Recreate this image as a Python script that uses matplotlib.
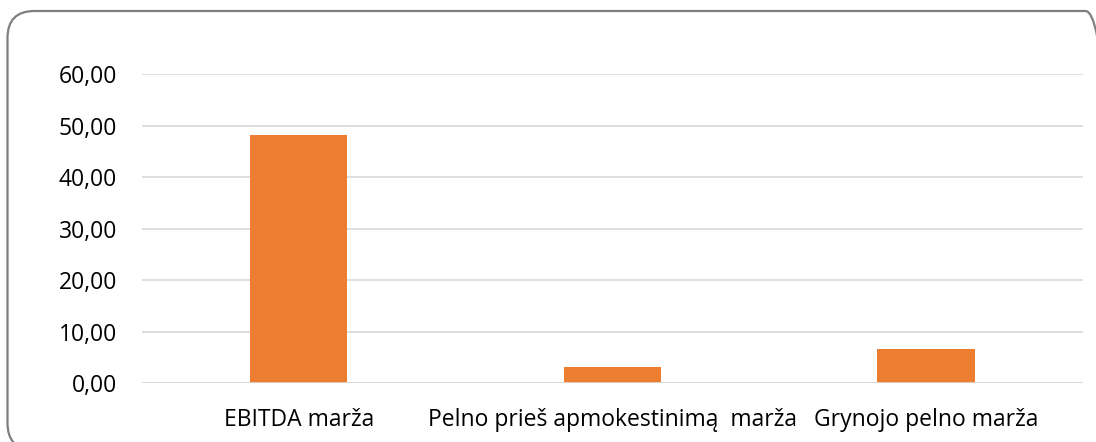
import matplotlib.pyplot as plt
from matplotlib.patches import FancyBboxPatch

categories = ['EBITDA marža', 'Pelno prieš apmokestinimą  marža', 'Grynojo pelno marža']
values = [48.2, 3.1, 6.7]
yticks = [0, 10, 20, 30, 40, 50, 60]

plt.rcParams['font.family'] = ['Open Sans', 'DejaVu Sans']

fig = plt.figure(figsize=(10.96, 4.42), dpi=100)
ax = fig.add_axes([0.1296, 0.1324, 0.8584, 0.7002])

x = range(len(categories))
ax.bar(x, values, width=0.31, color='#ED7D31', zorder=3)

ax.set_xlim(-0.5, len(categories) - 0.5)
ax.set_ylim(0, 60)
ax.set_yticks(yticks)
ax.set_yticklabels(['{:.2f}'.format(v).replace('.', ',') for v in yticks])
ax.set_xticks(list(x))
ax.set_xticklabels(categories)
ax.tick_params(axis='both', length=0, labelsize=16.5, colors='#000000')
ax.tick_params(axis='y', pad=18)
ax.tick_params(axis='x', pad=18)
ax.grid(axis='y', color='#d9d9d9', linewidth=1.2, zorder=0)
for s in ax.spines.values():
    s.set_visible(False)
ax.axhline(0, color='#d9d9d9', linewidth=1.2, zorder=4)

# rounded chart border (inches), runs off the right and bottom edges
border = FancyBboxPatch((0.075, -0.08), 11.05, 4.39,
                        boxstyle='round,pad=0,rounding_size=0.27',
                        transform=fig.dpi_scale_trans, fill=False,
                        edgecolor='#7f7f7f', linewidth=1.6)
fig.patches.append(border)

fig.savefig('out.png', dpi=100)
